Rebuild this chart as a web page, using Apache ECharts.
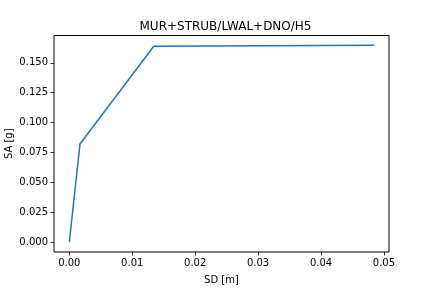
<!DOCTYPE html>
<html><head><meta charset="utf-8">
<script src="https://cdn.jsdelivr.net/npm/echarts@6/dist/echarts.min.js"></script>
<style>html,body{margin:0;padding:0;background:#fff}#c{width:432px;height:288px}</style>
</head><body><div id="c"></div>
<script>
const sd = [0.0, 0.0017, 0.01342, 0.04844];
const sa = [0.0, 0.0821, 0.1638, 0.1646];
const xTicks = [0, 0.01, 0.02, 0.03, 0.04, 0.05];
const yTicks = [0, 0.025, 0.05, 0.075, 0.1, 0.125, 0.15];
const titleText = 'MUR+STRUB/LWAL+DNO/H5';

const font = 'DejaVu Sans';
const chart = echarts.init(document.getElementById('c'), null, {renderer: 'canvas'});
chart.setOption({
  animation: false,
  backgroundColor: '#fff',
  title: {text: titleText, left: 220.5, top: 16, textAlign: 'center',
    textStyle: {fontFamily: font, fontSize: 12, fontWeight: 'normal', color: '#000'}},
  grid: {left: 54, right: 43, top: 35.5, bottom: 36, show: true, borderColor: '#000', borderWidth: 1,
    containLabel: false, outerBoundsMode: 'none'},
  xAxis: {type: 'value', min: -0.00243, max: 0.0508,
    name: 'SD [m]', nameLocation: 'middle', nameGap: 23, nameMoveOverlap: false,
    nameTextStyle: {fontFamily: font, fontSize: 10, color: '#000'},
    axisLine: {show: false, onZero: false}, splitLine: {show: false},
    axisTick: {show: true, inside: false, length: 3.5, customValues: xTicks, lineStyle: {color: '#000', width: 0.8}},
    axisLabel: {customValues: xTicks, margin: 6, fontFamily: font, fontSize: 10, color: '#000', formatter: v => v.toFixed(2)}},
  yAxis: {type: 'value', min: -0.0082, max: 0.1728,
    name: 'SA [g]', nameLocation: 'middle', nameGap: 40, nameRotate: 90, nameMoveOverlap: false,
    nameTextStyle: {fontFamily: font, fontSize: 10, color: '#000'},
    axisLine: {show: false, onZero: false}, splitLine: {show: false},
    axisTick: {show: true, inside: false, length: 3.5, customValues: yTicks, lineStyle: {color: '#000', width: 0.8}},
    axisLabel: {customValues: yTicks, margin: 6, fontFamily: font, fontSize: 10, color: '#000', formatter: v => v.toFixed(3)}},
  series: [{type: 'line', data: sd.map((x, i) => [x, sa[i]]), showSymbol: false, symbol: 'none',
    lineStyle: {color: '#1f77b4', width: 1.5}, itemStyle: {color: '#1f77b4'}}]
});
</script></body></html>
